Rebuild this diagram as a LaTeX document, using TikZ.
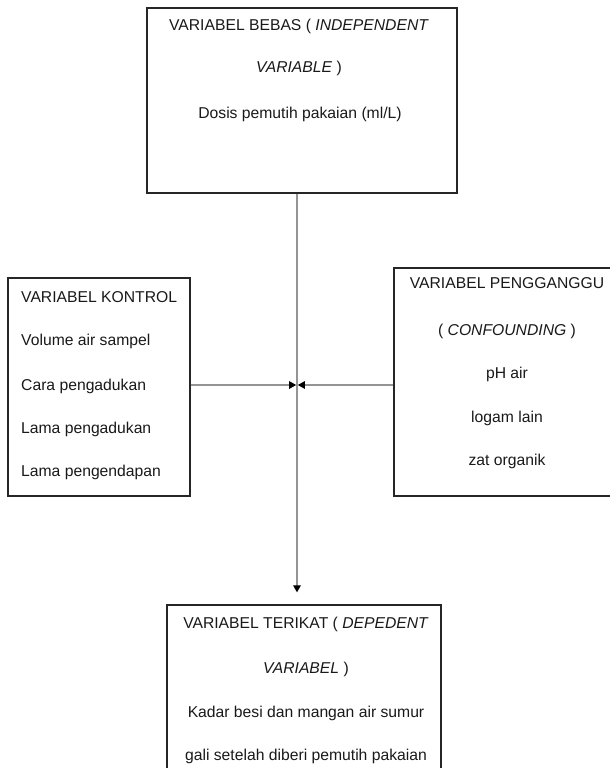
\documentclass[tikz,border=0pt]{standalone}
\usepackage{fontspec}
\setmainfont{Liberation Sans}
\usetikzlibrary{arrows.meta,calc}
\begin{document}
\begin{tikzpicture}[x=1pt,y=-1pt,
  box/.style={draw=black!85, line width=1.3pt, inner sep=0pt, fill=none},
  txt/.style={font=\fontsize{15.7}{18}\selectfont, anchor=base, inner sep=0pt, text=black!90},
  ltxt/.style={txt, anchor=base west},
  conn/.style={draw=black!42, line width=1.2pt},
  tip/.style={-{Triangle[length=7pt,width=7.5pt,color=black]}}]
\useasboundingbox (0,0) rectangle (610,768);
\clip (0,0) rectangle (610,768);

% boxes
\node[box, minimum width=310pt, minimum height=185pt] (top) at (302,100.5) {};
\node[box, minimum width=182pt, minimum height=218pt] (left) at (99,387) {};
\node[box, minimum width=240pt, minimum height=228pt] (right) at (514,382) {};
\node[box, minimum width=274pt, minimum height=220pt] (bot) at (304,715) {};

% texts
\node[txt] (t1) at (299,30.5) {VARIABEL BEBAS ( \textit{INDEPENDENT}};
\node[txt] (t2) at (299,72.5) {\textit{VARIABLE} )};
\node[txt] (t3) at (300,118.5) {Dosis pemutih pakaian (ml/L)};

\node[ltxt] (l1) at (21,302.5) {VARIABEL KONTROL};
\node[ltxt] (l2) at (21,345.5) {Volume air sampel};
\node[ltxt] (l3) at (21,390.5) {Cara pengadukan};
\node[ltxt] (l4) at (21,433.5) {Lama pengadukan};
\node[ltxt] (l5) at (21,476.5) {Lama pengendapan};

\node[txt] (r1) at (507,288.5) {VARIABEL PENGGANGGU};
\node[txt] (r2) at (507,335.5) {( \textit{CONFOUNDING} )};
\node[txt] (r3) at (507,378.5) {pH air};
\node[txt] (r4) at (507,422.5) {logam lain};
\node[txt] (r5) at (507,465.5) {zat organik};

\node[txt] (b1) at (306,628.5) {VARIABEL TERIKAT ( \textit{DEPEDENT}};
\node[txt] (b2) at (306,673.5) {\textit{VARIABEL} )};
\node[txt] (b3) at (306,717.5) {Kadar besi dan mangan air sumur};
\node[txt] (b4) at (306,760.5) {gali setelah diberi pemutih pakaian};

% connectors
\coordinate (j) at (297,385);
\draw[conn, tip, shorten >=12pt] (j |- top.south) -- (j |- bot.north);
\draw[conn, tip, shorten >=0.8pt] (left.east |- j) -- (j);
\draw[conn, tip, shorten >=0.8pt] (right.west |- j) -- (j);
\end{tikzpicture}
\end{document}
